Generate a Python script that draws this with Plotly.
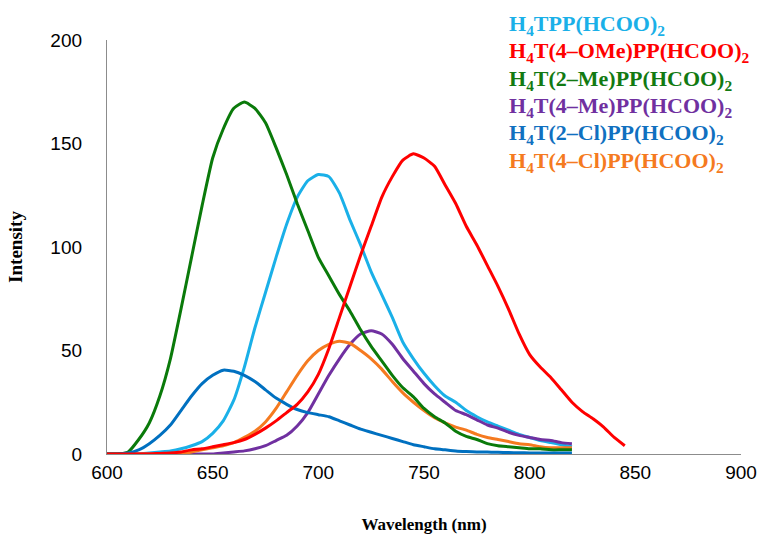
import plotly.graph_objects as go

wl_a = list(range(600, 821, 5))
wl_red = list(range(600, 846, 5))

h4tpp = [0, 0, 0, 0, 0.5, 1, 1.5, 2.5, 4, 6, 10, 16, 26, 42, 61, 78, 95, 111, 124, 132,
         135, 134, 126, 113, 101, 88, 77, 66, 54, 46, 39, 33, 28, 25, 21, 18, 15.5, 13.5,
         11.5, 9.5, 8, 6.5, 5.5, 4.5, 3.5]
ome = [0, 0, 0, 0, 0, 0.3, 0.5, 1, 2, 2.5, 3.5, 4.5, 5.5, 7, 9.5, 12.5, 16, 20, 24, 30,
       38.5, 51, 66, 81, 96, 110, 124, 134, 142, 145, 143, 139, 130, 121, 110, 101, 91, 81,
       70, 58, 48, 42, 37, 31, 25, 20.5, 17, 13, 8, 4]
me2 = [0, 0, 1, 7, 15, 28, 46, 70, 95, 120, 143, 157, 167, 170, 167, 160, 148, 135, 121,
       108, 95, 86, 77, 69, 60, 52, 45, 38, 32, 27.6, 22, 18, 15, 11, 8.5, 7, 5, 4, 3.5, 3,
       2.5, 2.5, 2, 2, 2]
me4 = [0, 0, 0, 0, 0, 0, 0, 0, 0, 0, 0, 0.5, 1, 1.5, 2.5, 4, 6.5, 9, 13.5, 20, 29, 38, 46,
       53, 58, 59.5, 58, 53, 46, 40, 34, 29, 25, 21, 19, 16.5, 14, 12.5, 10.5, 9, 8, 7,
       6.5, 5.5, 5]
cl2 = [0, 0, 0.5, 2, 5, 9, 14, 21, 28, 34, 38, 40.5, 40, 38, 35, 31, 27, 24, 21.5, 20,
       19, 18, 16, 14, 12, 10.5, 9, 7.5, 6, 4.5, 3.5, 2.5, 2, 1.5, 1.2, 1, 1, 0.8, 0.7,
       0.6, 0.5, 0.5, 0.5, 0.5, 0.5]
cl4 = [0, 0, 0, 0, 0, 0, 0, 0, 1, 2, 3, 4, 5.5, 8, 11, 15.5, 22, 30, 38, 45, 50, 53, 54.5,
       53.5, 50, 46, 41, 35, 29.5, 25, 21, 17.5, 15, 13, 11.5, 9.5, 8, 7, 6, 5, 4.5, 3.5, 3,
       3, 3]

names = ["H<sub>4</sub>TPP(HCOO)<sub>2</sub>",
         "H<sub>4</sub>T(4–OMe)PP(HCOO)<sub>2</sub>",
         "H<sub>4</sub>T(2–Me)PP(HCOO)<sub>2</sub>",
         "H<sub>4</sub>T(4–Me)PP(HCOO)<sub>2</sub>",
         "H<sub>4</sub>T(2–Cl)PP(HCOO)<sub>2</sub>",
         "H<sub>4</sub>T(4–Cl)PP(HCOO)<sub>2</sub>"]
line_colors = ["#1AB0E8", "#FF0000", "#0A7A0A", "#7030A0", "#0070C0", "#F57A20"]
text_colors = ["#1AB0E8", "#FF0000", "#127A12", "#7030A0", "#1070C0", "#F57A20"]

series = [(wl_a, h4tpp), (wl_red, ome), (wl_a, me2), (wl_a, me4), (wl_a, cl2), (wl_a, cl4)]
draw_order = [0, 3, 5, 2, 4, 1]

W, H = 761, 535
L, T = 107, 40
pw, ph = 634, 414
R, B = W - L - pw, H - T - ph

fig = go.Figure()
for i in draw_order:
    x, y = series[i]
    fig.add_trace(go.Scatter(x=x, y=y, mode="lines", name=names[i],
                             line=dict(color=line_colors[i], width=3, shape="spline", smoothing=0.5),
                             showlegend=False))

for k, (nm, c) in enumerate(zip(names, text_colors)):
    px_x = 507
    px_y = 25 + 27.3 * k
    fig.add_annotation(x=(px_x - L) / pw, y=(T + ph - px_y) / ph,
                       xref="paper", yref="paper",
                       text=f"<b>{nm}</b>", showarrow=False, xanchor="left", yanchor="middle",
                       font=dict(family="Liberation Serif", size=22, color=c))

fig.update_layout(
    width=W, height=H, autosize=False,
    margin=dict(l=L, r=R, t=T, b=B),
    plot_bgcolor="white", paper_bgcolor="white",
    xaxis=dict(range=[600, 900], tickvals=[600, 650, 700, 750, 800, 850, 900],
               automargin=False,
               showgrid=False, zeroline=False, showline=True, linecolor="#8C8C8C", linewidth=1.3,
               ticks="", ticklabelstandoff=1,
               tickfont=dict(family="Liberation Sans", size=19, color="#000000"),
               title=dict(text="<b>Wavelength (nm)</b>", standoff=36,
                          font=dict(family="Liberation Serif", size=17, color="#000000"))),
    yaxis=dict(range=[0, 200], tickvals=[0, 50, 100, 150, 200],
               automargin=False,
               showgrid=False, zeroline=False, showline=True, linecolor="#8C8C8C", linewidth=1.3,
               ticks="", ticklabelstandoff=20,
               tickfont=dict(family="Liberation Sans", size=19, color="#000000"),
               title=dict(text="<b>Intensity</b>", standoff=22,
                          font=dict(family="Liberation Serif", size=19, color="#000000"))),
)

fig.write_html("out.html",
               config={"displayModeBar": False},
               post_script="document.body.style.margin='0';document.body.style.overflow='hidden';")
